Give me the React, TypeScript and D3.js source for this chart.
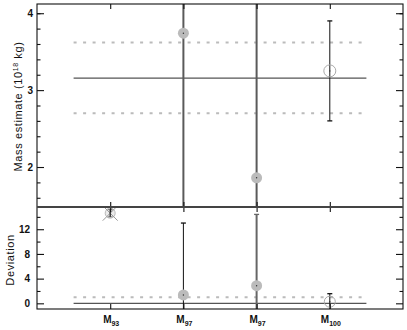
import { useEffect, useRef } from 'react';
import * as d3 from 'd3';

// values
const categories = ['93', '97', '97', '100'];
const massValues: (number | null)[] = [null, 3.74, 1.86, 3.25];
const massErrors: (number | null)[] = [null, 3.0, 3.0, 0.65];
const deviationValues = [14.6, 1.35, 2.85, 0.26];
const deviationErrors = [0.6, 11.65, 11.55, 1.3];
const meanMass = 3.156;
const massBand = [2.7, 3.62];
const deviationBand = [1];
const massTicks = [2, 3, 4];
const massMinorTicks = [1.6, 1.8, 2.2, 2.4, 2.6, 2.8, 3.2, 3.4, 3.6, 3.8, 4.0];
const deviationTicks = [0, 4, 8, 12];
const deviationMinorTicks = [2, 6, 10, 14];

const W = 407;
const H = 330;
const left = 37;
const right = 403;
const top = 4;
const mid = 207;
const bottom = 309;
const font = "'Liberation Sans', Arial, sans-serif";

export default function App() {
  const svgRef = useRef<SVGSVGElement>(null);

  useEffect(() => {
    if (!svgRef.current) return;
    const svg = d3.select(svgRef.current);
    svg.selectAll('*').remove();

    const x = d3.scaleLinear().domain([0, categories.length + 1]).range([left, right]);
    const yTop = d3.scaleLinear().domain([1.48, 4.12]).range([mid, top]);
    const yBot = d3.scaleLinear().domain([-0.92, 15.6]).range([bottom, mid]);
    const idx = categories.map((_, i) => i + 1);

    const defs = svg.append('defs');
    defs.append('clipPath').attr('id', 'clipTop')
      .append('rect').attr('x', left).attr('y', top).attr('width', right - left).attr('height', mid - top);
    defs.append('clipPath').attr('id', 'clipBot')
      .append('rect').attr('x', left).attr('y', mid).attr('width', right - left).attr('height', bottom - mid);

    // ---- top panel ----
    const gTop = svg.append('g').attr('clip-path', 'url(#clipTop)');

    gTop.selectAll('line.band')
      .data(massBand)
      .join('line')
      .attr('x1', x(0.5)).attr('x2', x(4.5))
      .attr('y1', d => yTop(d)).attr('y2', d => yTop(d))
      .attr('stroke', '#bbb').attr('stroke-width', 2).attr('stroke-dasharray', '3,6.5');

    gTop.append('line')
      .attr('x1', x(0.5)).attr('x2', x(4.5))
      .attr('y1', yTop(meanMass)).attr('y2', yTop(meanMass))
      .attr('stroke', '#555').attr('stroke-width', 1.2);

    const massPts = idx.map((c, i) => ({ c, i, v: massValues[i], e: massErrors[i] }))
      .filter(d => d.v !== null) as { c: number; i: number; v: number; e: number }[];

    massPts.forEach(d => {
      const big = d.i === 1 || d.i === 2;
      gTop.append('line')
        .attr('x1', x(d.c)).attr('x2', x(d.c))
        .attr('y1', yTop(d.v - d.e)).attr('y2', yTop(d.v + d.e))
        .attr('stroke', big ? '#5a5a5a' : '#111').attr('stroke-width', big ? 2 : 1);
      if (!big) {
        [d.v - d.e, d.v + d.e].forEach(v => {
          gTop.append('line')
            .attr('x1', x(d.c) - 2.5).attr('x2', x(d.c) + 2.5)
            .attr('y1', yTop(v)).attr('y2', yTop(v))
            .attr('stroke', '#111').attr('stroke-width', 1.3);
        });
      }
      const hollow = d.i === 3;
      gTop.append('circle')
        .attr('cx', x(d.c)).attr('cy', yTop(d.v)).attr('r', hollow ? 6 : 5.5)
        .attr('fill', hollow ? 'none' : '#bbb')
        .attr('stroke', hollow ? '#aaa' : 'none').attr('stroke-width', 1);
      gTop.append('circle')
        .attr('cx', x(d.c)).attr('cy', yTop(d.v)).attr('r', 0.7).attr('fill', '#333');
    });

    // ---- bottom panel ----
    const gBot = svg.append('g').attr('clip-path', 'url(#clipBot)');

    gBot.selectAll('line.band')
      .data(deviationBand)
      .join('line')
      .attr('x1', x(0.5)).attr('x2', x(4.5))
      .attr('y1', d => yBot(d)).attr('y2', d => yBot(d))
      .attr('stroke', '#bbb').attr('stroke-width', 2).attr('stroke-dasharray', '3,6.5');

    gBot.append('line')
      .attr('x1', x(0.5)).attr('x2', x(4.5))
      .attr('y1', yBot(0)).attr('y2', yBot(0))
      .attr('stroke', '#555').attr('stroke-width', 1.2);

    idx.forEach((c, i) => {
      const v = deviationValues[i];
      const e = deviationErrors[i];
      const grey = i === 2;
      const col = grey ? '#666' : '#111';
      const sw = grey ? 2 : 1;
      gBot.append('line')
        .attr('x1', x(c)).attr('x2', x(c))
        .attr('y1', yBot(v - e)).attr('y2', yBot(v + e))
        .attr('stroke', col).attr('stroke-width', sw);
      [v - e, v + e].forEach(w => {
        gBot.append('line')
          .attr('x1', x(c) - 2.5).attr('x2', x(c) + 2.5)
          .attr('y1', yBot(w)).attr('y2', yBot(w))
          .attr('stroke', col).attr('stroke-width', 1.3);
      });
      if (i === 0) {
        // out-of-range marker: circle with a cross
        gBot.append('circle')
          .attr('cx', x(c)).attr('cy', yBot(v)).attr('r', 5)
          .attr('fill', '#ddd').attr('fill-opacity', 0.6).attr('stroke', '#bbb');
        [[-1, -1], [1, -1]].forEach(([a, b]) => {
          gBot.append('line')
            .attr('x1', x(c) - 7.5 * a).attr('x2', x(c) + 7.5 * a)
            .attr('y1', yBot(v) - 7.5 * b).attr('y2', yBot(v) + 7.5 * b)
            .attr('stroke', '#999').attr('stroke-width', 1);
        });
        gBot.append('line')
          .attr('x1', x(c)).attr('x2', x(c))
          .attr('y1', yBot(v - e)).attr('y2', yBot(v + e))
          .attr('stroke', '#111').attr('stroke-width', 1);
      } else {
        const hollow = i === 3;
        gBot.append('circle')
          .attr('cx', x(c)).attr('cy', yBot(v)).attr('r', 5.5)
          .attr('fill', hollow ? 'none' : '#bbb')
          .attr('stroke', hollow ? '#aaa' : 'none').attr('stroke-width', 1);
        gBot.append('circle')
          .attr('cx', x(c)).attr('cy', yBot(v)).attr('r', 0.7).attr('fill', '#333');
      }
    });

    // ---- axes ----
    const tickStyle = (g: d3.Selection<SVGGElement, unknown, null, undefined>) => {
      g.select('.domain').remove();
      g.selectAll('line').attr('stroke', '#111').attr('stroke-width', 1.1);
      g.selectAll('text').attr('fill', '#111').style('font-family', font)
        .style('font-size', '10px').style('font-weight', 'bold');
    };

    // top panel y axes
    svg.append('g').attr('transform', `translate(${left},0)`)
      .call(d3.axisLeft(yTop).tickValues(massTicks).tickSize(-7).tickPadding(4).tickFormat(d3.format('d')))
      .call(tickStyle);
    svg.append('g').attr('transform', `translate(${left},0)`)
      .call(d3.axisLeft(yTop).tickValues(massMinorTicks).tickSize(-3.5).tickFormat(() => ''))
      .call(tickStyle);
    svg.append('g').attr('transform', `translate(${right},0)`)
      .call(d3.axisRight(yTop).tickValues(massTicks).tickSize(-7).tickFormat(() => ''))
      .call(tickStyle);
    svg.append('g').attr('transform', `translate(${right},0)`)
      .call(d3.axisRight(yTop).tickValues(massMinorTicks).tickSize(-3.5).tickFormat(() => ''))
      .call(tickStyle);

    // bottom panel y axes
    svg.append('g').attr('transform', `translate(${left},0)`)
      .call(d3.axisLeft(yBot).tickValues(deviationTicks).tickSize(-7).tickPadding(7).tickFormat(d3.format('d')))
      .call(tickStyle);
    svg.append('g').attr('transform', `translate(${left},0)`)
      .call(d3.axisLeft(yBot).tickValues(deviationMinorTicks).tickSize(-3.5).tickFormat(() => ''))
      .call(tickStyle);
    svg.append('g').attr('transform', `translate(${right},0)`)
      .call(d3.axisRight(yBot).tickValues(deviationTicks).tickSize(-7).tickFormat(() => ''))
      .call(tickStyle);
    svg.append('g').attr('transform', `translate(${right},0)`)
      .call(d3.axisRight(yBot).tickValues(deviationMinorTicks).tickSize(-3.5).tickFormat(() => ''))
      .call(tickStyle);

    // category ticks on horizontal edges
    svg.append('g').attr('transform', `translate(0,${top})`)
      .call(d3.axisTop(x).tickValues(idx).tickSize(-5).tickFormat(() => ''))
      .call(tickStyle);
    svg.append('g').attr('transform', `translate(0,${mid})`)
      .call(d3.axisBottom(x).tickValues(idx).tickSize(-5).tickFormat(() => ''))
      .call(tickStyle);
    svg.append('g').attr('transform', `translate(0,${mid})`)
      .call(d3.axisTop(x).tickValues(idx).tickSize(-5).tickFormat(() => ''))
      .call(tickStyle);
    svg.append('g').attr('transform', `translate(0,${bottom})`)
      .call(d3.axisBottom(x).tickValues(idx).tickSize(-5).tickFormat(() => ''))
      .call(tickStyle);

    // frames
    svg.append('rect')
      .attr('x', left).attr('y', top).attr('width', right - left).attr('height', bottom - top)
      .attr('fill', 'none').attr('stroke', '#111').attr('stroke-width', 1.1);
    svg.append('line')
      .attr('x1', left).attr('x2', right).attr('y1', mid).attr('y2', mid)
      .attr('stroke', '#444').attr('stroke-width', 2);

    // category labels
    const labels = svg.append('g')
      .selectAll('text')
      .data(categories)
      .join('text')
      .attr('x', (_, i) => x(i + 1) + 1)
      .attr('y', 323)
      .attr('text-anchor', 'middle')
      .attr('fill', '#111')
      .style('font-family', font)
      .style('font-size', '10px')
      .style('font-weight', 'bold');
    labels.append('tspan').attr('fill', '#111').text('M');
    labels.append('tspan').attr('fill', '#111').attr('dy', 3).style('font-size', '7px').text(d => d);

    // axis titles
    const t1 = svg.append('text')
      .attr('transform', `translate(21.5,${(top + mid) / 2 + 1}) rotate(-90)`)
      .attr('text-anchor', 'middle')
      .attr('fill', '#111')
      .style('font-family', font)
      .style('font-size', '11px')
      .style('letter-spacing', '0.6px');
    t1.append('tspan').text('Mass  estimate  (10');
    t1.append('tspan').attr('dy', -4).style('font-size', '7px').text('18');
    t1.append('tspan').attr('dy', 4).text('  kg)');

    svg.append('text')
      .attr('transform', `translate(13.5,${(mid + bottom) / 2 + 2}) rotate(-90)`)
      .attr('text-anchor', 'middle')
      .attr('fill', '#111')
      .style('font-family', font)
      .style('font-size', '11px')
      .style('letter-spacing', '0.6px')
      .text('Deviation');
  }, []);

  return (
    <svg
      ref={svgRef}
      width={W}
      height={H}
      style={{ position: 'absolute', left: 0, top: 0, background: '#fff' }}
    />
  );
}
